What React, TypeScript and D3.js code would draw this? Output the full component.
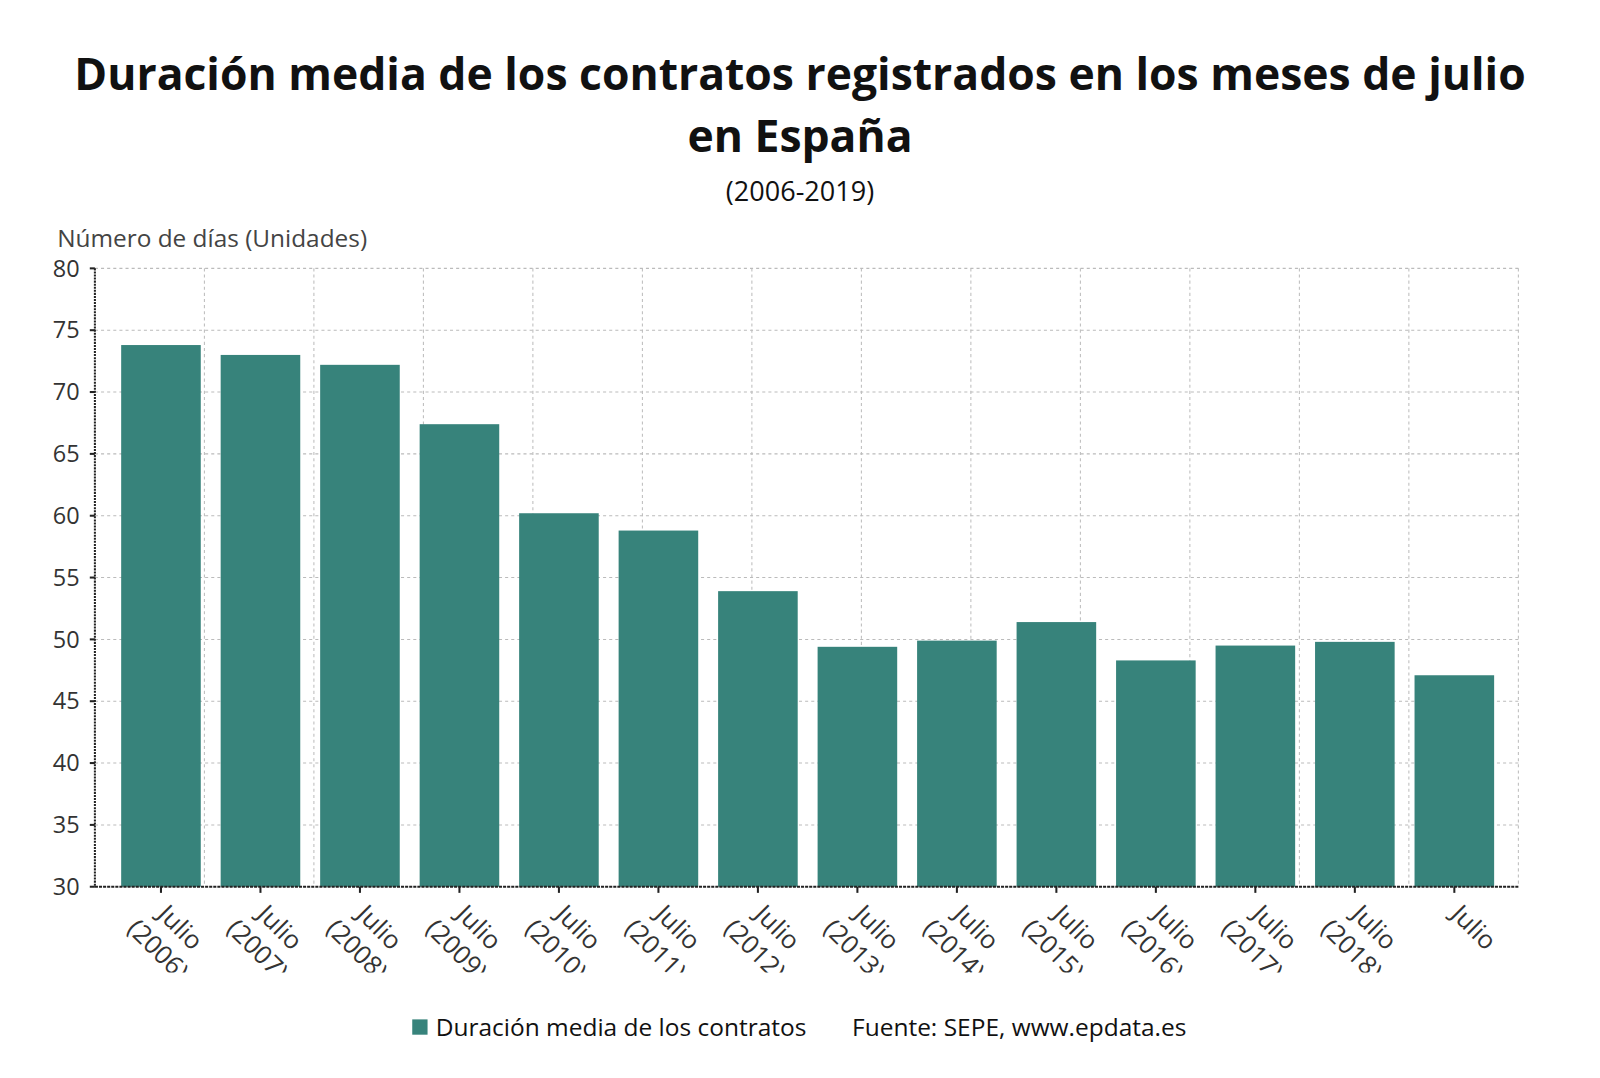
import React, { useEffect, useRef } from 'react';
import * as d3 from 'd3';

const years = ['2006', '2007', '2008', '2009', '2010', '2011', '2012', '2013', '2014', '2015', '2016', '2017', '2018', '2019'];
const labels = ['Julio (2006)', 'Julio (2007)', 'Julio (2008)', 'Julio (2009)', 'Julio (2010)', 'Julio (2011)', 'Julio (2012)',
  'Julio (2013)', 'Julio (2014)', 'Julio (2015)', 'Julio (2016)', 'Julio (2017)', 'Julio (2018)', 'Julio'];
const values = [73.8, 73.0, 72.2, 67.4, 60.2, 58.8, 53.9, 49.4, 49.9, 51.4, 48.3, 49.5, 49.8, 47.1];
const yTicks = [30, 35, 40, 45, 50, 55, 60, 65, 70, 75, 80];

const W = 1600;
const H = 1078;
const K = 1600 / 1568; // layout was measured on a 1568px wide view
const FONT = '"Open Sans", "Noto Sans", sans-serif';
const BAR = '#37837b';

const App: React.FC = () => {
  const svgRef = useRef<SVGSVGElement>(null);

  useEffect(() => {
    if (!svgRef.current) return;
    const root = d3.select(svgRef.current);
    root.selectAll('*').remove();
    const svg = root.append('g').attr('transform', `scale(${K})`);

    const left = 93, right = 1488, top = 263, bottom = 869;

    const y = d3.scaleLinear().domain([30, 80]).range([bottom, top]);
    const x = d3.scaleBand<string>().domain(years).range([left + 16, right - 14]).paddingInner(0.2).paddingOuter(0.1);
    const gridX = d3.scaleLinear().domain([0, 13]).range([left, right]);

    // titles
    const title = svg.append('text').attr('text-anchor', 'middle')
      .attr('font-family', FONT).attr('font-weight', 700).attr('font-size', 43.6).attr('fill', '#111');
    title.append('tspan').attr('x', 784).attr('y', 88).text('Duración media de los contratos registrados en los meses de julio');
    title.append('tspan').attr('x', 784).attr('y', 149).text('en España');

    svg.append('text').attr('x', 784).attr('y', 197).attr('text-anchor', 'middle')
      .attr('font-family', FONT).attr('font-size', 26.5).attr('fill', '#111').text('(2006-2019)');

    svg.append('text').attr('x', 56).attr('y', 242)
      .attr('font-family', FONT).attr('font-size', 23.9).attr('fill', '#444').text('Número de días (Unidades)');

    // grid
    const grid = svg.append('g').attr('stroke', '#bbb').attr('stroke-width', 1).attr('stroke-dasharray', '3,3');
    yTicks.filter(t => t > 30).forEach(t => {
      grid.append('line').attr('x1', left).attr('x2', right).attr('y1', y(t)).attr('y2', y(t));
    });
    d3.range(1, 14).forEach(i => {
      grid.append('line').attr('x1', gridX(i)).attr('x2', gridX(i)).attr('y1', top).attr('y2', bottom);
    });

    // bars
    svg.append('g').selectAll('rect').data(values).join('rect')
      .attr('x', (_, i) => x(years[i])!)
      .attr('width', x.bandwidth())
      .attr('y', d => y(d))
      .attr('height', d => bottom - y(d))
      .attr('fill', BAR);

    // axis lines
    svg.append('line').attr('x1', left).attr('x2', left).attr('y1', top).attr('y2', bottom)
      .attr('stroke', '#222').attr('stroke-width', 2).attr('stroke-dasharray', '2,1');
    svg.append('line').attr('x1', left).attr('x2', right).attr('y1', bottom).attr('y2', bottom)
      .attr('stroke', '#222').attr('stroke-width', 2).attr('stroke-dasharray', '3,1');

    // y ticks
    const yAx = svg.append('g');
    yTicks.forEach(t => {
      yAx.append('line').attr('x1', left - 5).attr('x2', left).attr('y1', y(t)).attr('y2', y(t))
        .attr('stroke', '#222').attr('stroke-width', 2);
      yAx.append('text').attr('x', 78).attr('y', y(t)).attr('dy', '0.35em').attr('text-anchor', 'end')
        .attr('font-family', FONT).attr('font-size', 23).attr('fill', '#333').text(String(t));
    });

    // x ticks & labels (cut off at the bottom as in the original)
    const defs = root.append('defs');
    defs.append('clipPath').attr('id', 'xlabClip').append('rect')
      .attr('x', 0).attr('y', bottom + 2).attr('width', W).attr('height', 953 - bottom - 2);
    const xAx = svg.append('g');
    const xLab = svg.append('g').attr('clip-path', 'url(#xlabClip)');
    years.forEach((yr, i) => {
      const cx = x(yr)! + x.bandwidth() / 2;
      xAx.append('line').attr('x1', cx).attr('x2', cx).attr('y1', bottom).attr('y2', bottom + 6)
        .attr('stroke', '#222').attr('stroke-width', 2);
      const parts = labels[i].split(' ');
      const t = xLab.append('text')
        .attr('transform', `translate(${cx + 13},${bottom + 46}) rotate(45)`)
        .attr('text-anchor', 'middle')
        .attr('font-family', FONT).attr('font-size', 25).attr('fill', '#333');
      t.append('tspan').attr('x', 0).attr('y', 0).text(parts[0]);
      if (parts[1]) t.append('tspan').attr('x', 0).attr('y', 31).text(parts[1]);
    });

    // legend
    svg.append('rect').attr('x', 404).attr('y', 999).attr('width', 15).attr('height', 15).attr('fill', BAR);
    svg.append('text').attr('x', 427).attr('y', 1015)
      .attr('font-family', FONT).attr('font-size', 24).attr('fill', '#111').text('Duración media de los contratos');
    svg.append('text').attr('x', 835).attr('y', 1015)
      .attr('font-family', FONT).attr('font-size', 24).attr('fill', '#111').text('Fuente: SEPE, www.epdata.es');
  }, []);

  return (
    <svg ref={svgRef} width={W} height={H}
      style={{ position: 'absolute', left: 0, top: 0, background: '#fff', display: 'block' }} />
  );
};

export default App;
